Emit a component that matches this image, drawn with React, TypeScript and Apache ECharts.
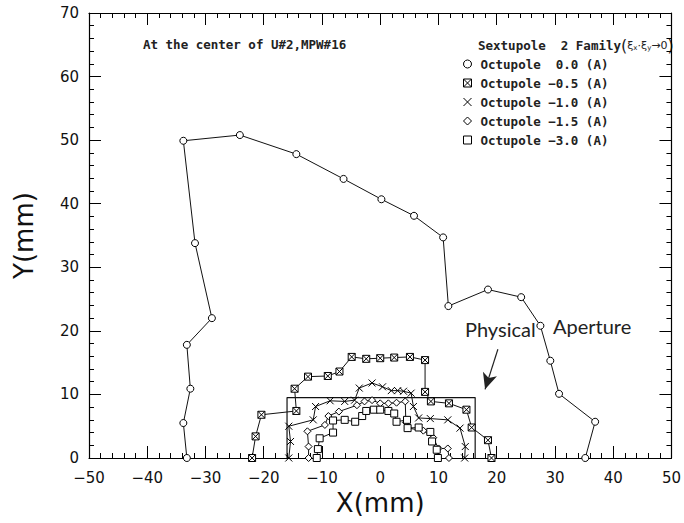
import React, { useEffect, useRef } from 'react';
import * as echarts from 'echarts';

// Dynamic aperture boundaries, [x (mm), y (mm)]
const octupole00 = [
  [-33.2, 0], [-33.8, 5.5], [-32.6, 10.9], [-33.2, 17.8], [-28.9, 22.0], [-31.8, 33.8],
  [-33.8, 49.9], [-24.1, 50.8], [-14.4, 47.8], [-6.3, 43.9], [0.2, 40.7], [5.8, 38.1],
  [10.8, 34.7], [11.7, 23.9], [18.5, 26.5], [24.2, 25.3], [27.5, 20.8], [29.2, 15.3],
  [30.7, 10.1], [36.9, 5.7], [35.2, 0],
];
const octupole05 = [
  [-22.0, 0], [-21.4, 3.4], [-20.4, 6.8], [-14.4, 7.4], [-14.7, 10.9], [-12.4, 12.8],
  [-9.0, 12.9], [-7.0, 13.6], [-4.9, 15.9], [-2.4, 15.6], [0.0, 15.7], [2.4, 15.8],
  [5.1, 15.9], [7.7, 15.4], [7.7, 10.4], [8.7, 8.9], [11.8, 8.6], [14.8, 7.6],
  [15.7, 4.8], [18.5, 2.8], [19.1, 0],
];
const octupole10 = [
  [-15.7, 0], [-15.4, 2.6], [-15.7, 5.0], [-11.5, 6.0], [-11.1, 8.1], [-8.6, 9.0],
  [-6.1, 8.9], [-4.4, 9.1], [-3.6, 11.0], [-1.4, 11.8], [0.4, 11.2], [1.9, 10.6],
  [3.0, 10.6], [4.0, 10.5], [5.3, 10.2], [5.7, 8.1], [6.6, 6.3], [8.6, 6.2],
  [11.6, 6.0], [13.7, 4.7], [14.6, 1.8], [14.5, 0],
];
const octupole15 = [
  [-12.3, 0], [-12.3, 1.8], [-12.5, 4.2], [-9.5, 5.2], [-8.9, 6.6], [-7.1, 7.3],
  [-4.0, 8.3], [-2.7, 8.9], [-1.4, 9.1], [0.0, 8.6], [1.4, 8.6], [2.8, 8.7],
  [4.3, 8.9], [4.4, 5.6], [4.8, 4.7], [7.4, 4.3], [9.1, 3.2], [10.0, 1.5],
  [11.6, 1.5], [11.8, 0],
];
const octupole30 = [
  [-10.9, 0], [-10.7, 1.4], [-10.4, 3.1], [-8.1, 4.0], [-8.1, 5.9], [-6.1, 6.0],
  [-4.3, 5.7], [-3.1, 6.6], [-2.4, 7.4], [-1.1, 7.6], [0.0, 7.6], [1.4, 7.4],
  [2.4, 7.0], [2.8, 5.7], [4.6, 6.0], [4.7, 4.7], [6.6, 4.8], [8.6, 4.1],
  [8.9, 2.6], [9.7, 1.3], [9.9, 0],
];
const physicalAperture = [[-16, 0], [-16, 9.5], [16.3, 9.5], [16.3, 0]];
const arrowFrom = [20.2, 17.1];
const arrowTo = [18.0, 10.8];

const seriesNames = [
  'Octupole  0.0 (A)',
  'Octupole \u22120.5 (A)',
  'Octupole \u22121.0 (A)',
  'Octupole \u22121.5 (A)',
  'Octupole \u22123.0 (A)',
];
const seriesData = [octupole00, octupole05, octupole10, octupole15, octupole30];
const seriesSymbols = [
  'circle',
  'path://M0,0L10,0L10,10L0,10ZM0,0L10,10M10,0L0,10',
  'path://M0,0L10,10M10,0L0,10',
  'diamond',
  'rect',
];
const seriesSymbolSizes = [7, 7, 7, 7, 7];

const titleText = 'At the center of U#2,MPW#16';
const legendHeader = 'Sextupole  2 Family';
const annotationWords = ['Physical', 'Aperture'];

const fmt = (v: number) => (v < 0 ? '\u2212' + Math.abs(v) : String(v));

export default function App() {
  const ref = useRef<HTMLDivElement>(null);
  useEffect(() => {
    if (!ref.current) return;
    const chart = echarts.init(ref.current, null, { renderer: 'svg' });
    const tickStyle = { color: '#000', width: 1 };
    const axisCommon = {
      type: 'value',
      axisLine: { show: true, onZero: false, lineStyle: { color: '#000', width: 1.2 } },
      axisTick: { show: true, inside: true, length: 12, lineStyle: tickStyle },
      minorTick: { show: true, splitNumber: 5, length: 5, lineStyle: tickStyle },
      splitLine: { show: false },
      minorSplitLine: { show: false },
    };
    const labelStyle = { fontFamily: 'DejaVu Sans', fontSize: 15, color: '#111' };
    const symbolStyle = { color: '#fff', borderColor: '#000', borderWidth: 1 };

    const series: any[] = seriesData.map((d, i) => ({
      name: seriesNames[i],
      type: 'line',
      data: d,
      symbol: seriesSymbols[i],
      symbolSize: seriesSymbolSizes[i],
      showAllSymbol: true,
      lineStyle: { color: '#111', width: 1 },
      itemStyle: symbolStyle,
      emphasis: { disabled: true },
      z: 3,
    }));
    series.push({
      name: 'aperture',
      type: 'line',
      data: physicalAperture,
      symbol: 'none',
      lineStyle: { color: '#111', width: 1.2 },
      emphasis: { disabled: true },
      z: 2,
      markLine: {
        silent: true,
        symbol: ['none', 'arrow'],
        symbolSize: [11, 16],
        lineStyle: { color: '#222', width: 1.2, type: 'solid' },
        label: { show: false },
        data: [[{ coord: arrowFrom }, { coord: arrowTo }]],
      },
    });

    const handStyle = { fontFamily: 'Lato', fontSize: 20, fill: '#222' };

    chart.setOption({
      animation: false,
      backgroundColor: '#fff',
      grid: { left: 89, right: 10, top: 13, bottom: 65, containLabel: false },
      title: {
        text: titleText,
        left: 143,
        top: 38,
        padding: 0,
        textStyle: { fontFamily: 'DejaVu Sans Mono', fontSize: 12.5, fontWeight: 'bold', color: '#222' },
      },
      legend: {
        orient: 'vertical',
        left: 463,
        top: 57,
        padding: 0,
        itemWidth: 8,
        itemHeight: 8,
        itemGap: 5,
        selectedMode: false,
        textStyle: {
          fontFamily: 'DejaVu Sans Mono',
          fontSize: 12.5,
          fontWeight: 'bold',
          color: '#222',
          lineHeight: 14,
          padding: [0, 0, 0, 4],
        },
        data: seriesNames.map((n, i) => ({
          name: n,
          icon: seriesSymbols[i],
          itemStyle: symbolStyle,
        })),
      },
      graphic: [
        {
          type: 'text',
          left: 478,
          top: 37,
          style: {
            text: legendHeader + '{b|(}{g|ξ}{s|x}{g|·ξ}{s|y}{g|→0}{b|)}',
            fontFamily: 'DejaVu Sans Mono',
            fontSize: 12.5,
            fontWeight: 'bold',
            fill: '#222',
            rich: {
              b: { fontSize: 16, fontFamily: 'DejaVu Sans', fill: '#222' },
              g: { fontSize: 11, fontFamily: 'DejaVu Sans', fill: '#222' },
              s: { fontSize: 7, fontFamily: 'DejaVu Sans', fill: '#222', padding: [6, 0, 0, 0] },
            },
          },
        },
        {
          type: 'text',
          left: 465,
          top: 319,
          style: { text: annotationWords[0], ...handStyle },
        },
        {
          type: 'text',
          left: 553,
          top: 316,
          style: { text: annotationWords[1], ...handStyle },
        },
      ],
      xAxis: [
        {
          ...axisCommon,
          position: 'bottom',
          min: -50,
          max: 50,
          interval: 10,
          axisLabel: { ...labelStyle, margin: 12, formatter: fmt },
          name: 'X(mm)',
          nameLocation: 'middle',
          nameGap: 22,
          nameTextStyle: { fontFamily: 'DejaVu Sans', fontSize: 26, color: '#111' },
        },
        {
          ...axisCommon,
          position: 'top',
          min: -50,
          max: 50,
          interval: 10,
          axisLabel: { show: false },
        },
      ],
      yAxis: [
        {
          ...axisCommon,
          position: 'left',
          min: 0,
          max: 70,
          interval: 10,
          axisLabel: { ...labelStyle, margin: 10, formatter: fmt },
          name: 'Y(mm)',
          nameLocation: 'middle',
          nameGap: 52,
          nameTextStyle: { fontFamily: 'DejaVu Sans', fontSize: 26, color: '#111' },
        },
        {
          ...axisCommon,
          position: 'right',
          min: 0,
          max: 70,
          interval: 10,
          axisLabel: { show: false },
        },
      ],
      series,
    });
    return () => chart.dispose();
  }, []);
  return (
    <div
      ref={ref}
      style={{ position: 'fixed', left: 0, top: 0, width: 684, height: 523, background: '#fff' }}
    />
  );
}
